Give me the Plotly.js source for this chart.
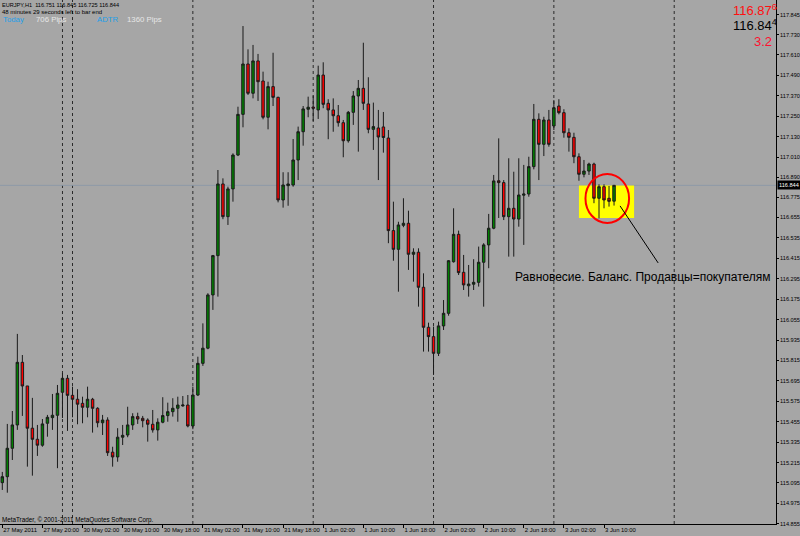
<!DOCTYPE html>
<html><head><meta charset="utf-8">
<script src="https://cdn.plot.ly/plotly-3.0.1.min.js"></script>
<style>html,body{margin:0;padding:0;background:#a6a6a6}#chart{width:800px;height:536px}</style>
</head><body><div id="chart"></div>
<script>
// EURJPY H1 candles
const open = [115.097,115.132,115.299,115.436,115.804,115.665,115.417,115.352,115.317,115.446,
115.479,115.493,115.628,115.710,115.610,115.587,115.563,115.540,115.587,115.534,
115.449,115.465,115.276,115.248,115.364,115.377,115.436,115.485,115.475,115.465,
115.440,115.407,115.452,115.491,115.514,115.534,115.548,115.553,115.430,115.612,
115.798,115.887,116.200,116.431,116.852,116.660,116.823,117.022,117.261,117.557,
117.385,117.575,117.457,117.244,117.424,117.361,116.758,116.842,116.846,116.993,
117.159,117.291,117.304,117.287,117.492,117.326,117.287,117.253,117.212,117.106,
117.273,117.369,117.414,117.322,117.173,117.181,117.187,117.122,116.578,116.468,
116.609,116.621,116.439,116.451,116.245,116.010,115.955,115.857,116.018,116.092,
116.395,116.556,116.333,116.254,116.263,116.274,116.392,116.494,116.592,116.871,
116.860,116.660,116.709,116.646,116.786,116.793,116.954,117.232,117.085,117.228,
117.193,117.310,117.271,117.153,117.126,117.012,116.909,116.928,116.969,116.768,
116.836,116.768,116.751];
const high = [115.160,115.442,115.518,115.971,115.847,115.665,115.595,115.436,115.471,115.495,
115.618,115.671,115.741,115.730,115.661,115.646,115.602,115.661,115.595,115.540,
115.495,115.481,115.308,115.417,115.436,115.543,115.505,115.508,115.489,115.475,
115.524,115.475,115.599,115.567,115.593,115.602,115.606,115.612,115.661,115.837,
116.033,116.210,116.435,116.934,116.885,116.836,117.032,117.306,117.780,117.643,
117.669,117.616,117.512,117.453,117.623,117.365,116.921,116.921,117.116,117.189,
117.310,117.365,117.371,117.547,117.567,117.350,117.355,117.316,117.228,117.281,
117.398,117.463,117.682,117.479,117.330,117.287,117.275,117.169,116.748,116.630,
116.768,116.695,116.474,116.474,116.327,116.037,116.014,116.043,116.170,116.405,
116.709,116.578,116.435,116.376,116.410,116.484,116.504,116.676,116.905,117.120,
116.875,117.003,116.924,117.003,116.964,117.012,117.322,117.267,117.247,117.287,
117.345,117.350,117.291,117.179,117.153,117.032,116.993,116.977,116.977,116.850,
116.850,116.840,116.845];
const low = [115.054,115.038,115.230,115.407,115.489,115.191,115.138,115.254,115.308,115.367,
115.407,115.182,115.477,115.401,115.481,115.440,115.446,115.481,115.391,115.422,
115.377,115.254,115.191,115.220,115.318,115.364,115.407,115.442,115.422,115.338,
115.391,115.344,115.446,115.455,115.485,115.455,115.543,115.422,115.411,115.606,
115.783,115.881,116.112,116.190,116.645,116.611,116.748,117.016,117.185,117.375,
117.355,117.340,117.232,117.173,117.310,116.744,116.713,116.724,116.836,116.875,
117.077,117.244,117.222,117.234,117.297,117.115,117.159,117.189,117.009,117.095,
117.199,117.042,117.287,117.150,117.052,116.875,117.036,116.504,116.401,116.219,
116.598,116.347,116.278,116.131,115.867,115.867,115.730,115.841,115.994,116.078,
116.390,116.317,116.229,116.190,116.229,116.249,116.131,116.357,116.586,116.652,
116.640,116.425,116.425,116.601,116.494,116.777,116.938,116.875,117.016,117.071,
117.169,117.261,117.124,117.042,116.974,116.871,116.891,116.905,116.739,116.650,
116.709,116.719,116.725];
const close = [115.132,115.299,115.436,115.804,115.665,115.417,115.352,115.317,115.442,115.481,
115.493,115.622,115.710,115.610,115.587,115.558,115.540,115.587,115.534,115.449,
115.465,115.273,115.248,115.364,115.375,115.436,115.485,115.471,115.461,115.440,
115.407,115.452,115.491,115.514,115.534,115.553,115.553,115.430,115.612,115.798,
115.887,116.200,116.431,116.852,116.660,116.823,117.022,117.261,117.557,117.385,
117.575,117.453,117.244,117.424,117.361,116.758,116.846,116.852,116.993,117.159,
117.293,117.303,117.297,117.492,117.320,117.287,117.253,117.212,117.106,117.273,
117.369,117.414,117.326,117.173,117.189,117.128,117.125,116.578,116.468,116.611,
116.621,116.439,116.451,116.245,116.010,115.955,115.857,116.018,116.092,116.401,
116.556,116.331,116.259,116.264,116.274,116.392,116.494,116.592,116.870,116.860,
116.660,116.709,116.646,116.787,116.793,116.954,117.232,117.085,117.228,117.085,
117.300,117.271,117.153,117.126,117.012,116.909,116.928,116.969,116.768,116.836,
116.758,116.750,116.844];

const timeTickBars = [0,8,16,24,32,40,48,56,64,72,80,88,96,104,112,120];
const timeTickLabels = ["27 May 2011","27 May 20:00","30 May 02:00","30 May 10:00","30 May 18:00",
"31 May 02:00","31 May 10:00","31 May 18:00","1 Jun 02:00","1 Jun 10:00","1 Jun 18:00",
"2 Jun 02:00","2 Jun 10:00","2 Jun 18:00","3 Jun 02:00","3 Jun 10:00"];
const priceTicks = [114.855,114.975,115.095,115.215,115.335,115.455,115.575,115.695,115.815,115.935,
116.055,116.175,116.295,116.415,116.535,116.655,116.775,116.890,117.010,117.130,117.250,117.370,
117.490,117.610,117.730,117.845];
const priceTickLabels = ["114.855","114.975","115.095","115.215","115.335","115.455","115.575","115.695",
"115.815","115.935","116.055","116.175","116.295","116.415","116.535","116.655","116.775","116.890",
"117.010","117.130","117.250","117.370","117.490","117.610","117.730","117.845"];
const daySeparators = [12,14,38,62,86,110,134];
const lastPrice = 116.844;
const headerLine = "EURJPY,H1  116.751 116.845 116.725 116.844";
const timerLine = "48 minutes 29 seconds left to bar end";
const noteText = "Равновесие. Баланс. Продавцы=покупателям";

const bars = open.map((_, i) => i);
const F = "Liberation Sans, Arial, sans-serif";
const W = 776, H = 524;
const px = v => v / W, py = v => 1 - v / H;

const trace = {
  type: 'candlestick', x: bars, open: open, high: high, low: low, close: close,
  increasing: {line: {color: '#1a1a1a', width: 1}, fillcolor: '#008000'},
  decreasing: {line: {color: '#1a1a1a', width: 1}, fillcolor: '#ff0000'},
  whiskerwidth: 0, hoverinfo: 'skip', showlegend: false
};

const shapes = [];
daySeparators.forEach(d => shapes.push({type: 'line', layer: 'below', xref: 'x', yref: 'paper',
  x0: d, x1: d, y0: 0, y1: 1, line: {color: '#2a2a2a', width: 1, dash: 'dot'}}));
shapes.push({type: 'line', layer: 'below', xref: 'paper', yref: 'y', x0: 0, x1: 1,
  y0: lastPrice, y1: lastPrice, line: {color: '#8d99a8', width: 1}});
shapes.push({type: 'rect', layer: 'below', xref: 'x', yref: 'y', x0: 115.0, x1: 126.0,
  y0: 116.652, y1: 116.843, fillcolor: '#ffff00', line: {width: 0}});
shapes.push({type: 'circle', layer: 'above', xref: 'x', yref: 'y', x0: 116.3, x1: 125.0,
  y0: 116.623, y1: 116.911, line: {color: '#ff0000', width: 2}});
shapes.push({type: 'line', layer: 'above', xref: 'x', yref: 'y', x0: 123.2, x1: 130.8,
  y0: 116.723, y1: 116.388, line: {color: '#000', width: 1}});

const ann = (x, y, text, color, size, anchor) => ({xref: 'paper', yref: 'paper', x: px(x), y: py(y),
  xanchor: anchor || 'left', yanchor: 'middle', text: text, showarrow: false,
  font: {family: F, size: size, color: color}, borderpad: 0});

const annotations = [
  ann(1, 5, headerLine, '#000', 5.6),
  ann(1, 12.5, timerLine, '#000', 6.0),
  ann(2, 20, 'Today', '#1e9fe8', 7.8),
  ann(35, 20, '706 Pips', '#e6e6e6', 7.8),
  ann(96, 20, 'ADTR', '#1e9fe8', 7.8),
  ann(126, 20, '1360 Pips', '#e6e6e6', 7.8),
  ann(778, 10, '116.87<sup>6</sup>', '#ff1010', 13, 'right'),
  ann(778, 25.5, '116.84<sup>4</sup>', '#000', 13, 'right'),
  ann(772.5, 42, '3.2', '#ff1030', 13, 'right'),
  ann(1, 519.5, 'MetaTrader, © 2001-2011 MetaQuotes Software Corp.', '#000', 6.3),
  {xref: 'x', yref: 'y', x: 101.85, y: 116.306, xanchor: 'left', yanchor: 'middle', text: noteText,
   showarrow: false, font: {family: F, size: 12, color: '#000'}},
  {xref: 'paper', yref: 'y', x: 1, y: lastPrice, xanchor: 'left', yanchor: 'middle', xshift: 1,
   text: '116.844', showarrow: false, bgcolor: '#000', borderpad: 1,
   font: {family: F, size: 5.6, color: '#fff'}}
];

const layout = {
  width: 800, height: 536, margin: {l: 0, r: 24, t: 0, b: 12, pad: 0},
  paper_bgcolor: '#a6a6a6', plot_bgcolor: '#a6a6a6', showlegend: false,
  xaxis: {range: [-0.46, 154.3], rangeslider: {visible: false}, showgrid: false, zeroline: false,
    showline: true, linecolor: '#000', linewidth: 1, ticks: 'outside', ticklen: 3, tickcolor: '#000',
    tickmode: 'array', tickvals: timeTickBars, ticktext: timeTickLabels, ticklabelposition: 'outside right',
    tickangle: 0, tickfont: {family: F, size: 5.9, color: '#000'}, automargin: false, fixedrange: true},
  yaxis: {side: 'right', range: [114.854, 117.933], showgrid: false, zeroline: false,
    showline: true, linecolor: '#000', linewidth: 1, ticks: 'outside', ticklen: 2, tickcolor: '#000',
    tickmode: 'array', tickvals: priceTicks, ticktext: priceTickLabels,
    tickfont: {family: F, size: 5.6, color: '#000'}, automargin: false, fixedrange: true},
  shapes: shapes, annotations: annotations
};

Plotly.newPlot('chart', [trace], layout, {staticPlot: true, displayModeBar: false});
</script>
</body></html>
